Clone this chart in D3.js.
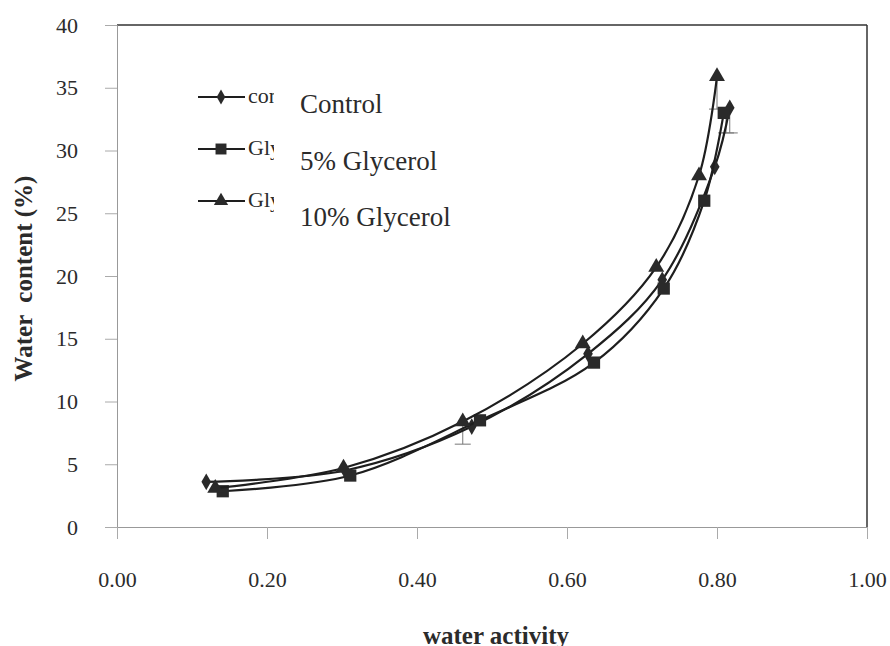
<!DOCTYPE html>
<html>
<head>
<meta charset="utf-8">
<script src="https://cdn.jsdelivr.net/npm/d3@7/dist/d3.min.js"></script>
<style>
  body { margin: 0; background: #fff; overflow: hidden; }
</style>
</head>
<body>
<div id="chart"></div>
<script>
/** Data */
const seriesNames = ["Control", "5% Glycerol", "10% Glycerol"];
const legendStubs = ["con", "Gly", "Gly"];
const controlAw = [0.119, 0.304, 0.473, 0.628, 0.727, 0.797, 0.817];
const controlWc = [3.6, 4.5, 8.0, 13.8, 19.7, 28.7, 33.4];
const gly5Aw = [0.141, 0.311, 0.484, 0.636, 0.729, 0.783, 0.809];
const gly5Wc = [2.85, 4.1, 8.5, 13.1, 19.0, 26.0, 33.0];
const gly10Aw = [0.131, 0.302, 0.461, 0.621, 0.719, 0.776, 0.800];
const gly10Wc = [3.1, 4.7, 8.4, 14.6, 20.7, 28.0, 35.9];
/** lower error bars (only some are visible) */
const errBars = [
  { x: 0.461, lo: 6.6, hi: 8.4 },
  { x: 0.800, lo: 33.3, hi: 35.9 },
  { x: 0.812, lo: 31.4, hi: 33.0 },
  { x: 0.817, lo: 31.4, hi: 33.4 },
];
const xTicks = [0, 0.2, 0.4, 0.6, 0.8, 1.0];
const yTicks = [0, 5, 10, 15, 20, 25, 30, 35, 40];

/** Graph configs */
const width = 890;
const height = 646;
const margin = { top: 25, right: 23, bottom: 119, left: 117 };
const innerWidth = width - margin.left - margin.right;
const innerHeight = height - margin.top - margin.bottom;
const serif = "'Liberation Serif', 'Times New Roman', Times, serif";

const series = [
  { name: seriesNames[0], stub: legendStubs[0], shape: d3.symbolDiamond, size: 80, xs: controlAw, ys: controlWc },
  { name: seriesNames[1], stub: legendStubs[1], shape: d3.symbolSquare, size: 150, xs: gly5Aw, ys: gly5Wc },
  { name: seriesNames[2], stub: legendStubs[2], shape: d3.symbolTriangle, size: 110, xs: gly10Aw, ys: gly10Wc },
];

const xScale = d3.scaleLinear().domain([0, 1]).range([0, innerWidth]);
const yScale = d3.scaleLinear().domain([0, 40]).range([innerHeight, 0]);

const svg = d3.select("#chart").append("svg")
  .attr("width", width)
  .attr("height", height)
  .style("display", "block");

/** clip for the truncated legend stubs (the original legend box cuts them) */
svg.append("defs").append("clipPath").attr("id", "stubClip")
  .append("rect").attr("x", 246).attr("y", 70).attr("width", 28).attr("height", 160);

const g = svg.append("g").attr("transform", `translate(${margin.left},${margin.top})`);

/** Frame: top and right dark, left and bottom grey axes */
g.append("line").attr("x1", 0).attr("x2", innerWidth).attr("y1", 0).attr("y2", 0)
  .attr("stroke", "#333").attr("stroke-width", 1.5);
g.append("line").attr("x1", innerWidth).attr("x2", innerWidth).attr("y1", 0).attr("y2", innerHeight)
  .attr("stroke", "#333").attr("stroke-width", 1.5);

/** Y axis */
const yAxis = g.append("g")
  .call(d3.axisLeft(yScale).tickValues(yTicks).tickSize(12).tickPadding(27).tickFormat(d3.format("d")));
yAxis.select(".domain").attr("stroke", "#999");
yAxis.selectAll(".tick line").attr("stroke", "#aaa");
yAxis.selectAll("text").style("font-size", "22px");

/** X axis */
const xAxis = g.append("g")
  .attr("transform", `translate(0,${innerHeight})`)
  .call(d3.axisBottom(xScale).tickValues(xTicks).tickSize(12).tickPadding(32).tickFormat(d3.format(".2f")));
xAxis.select(".domain").attr("stroke", "#999");
xAxis.selectAll(".tick line").attr("stroke", "#aaa");
xAxis.selectAll("text").style("font-size", "22px");

/** Axis titles */
svg.append("text")
  .attr("x", 496)
  .attr("y", 644)
  .attr("text-anchor", "middle")
  .style("font-size", "25px").style("font-weight", "bold")
  .text("water activity");

svg.append("text")
  .attr("transform", `translate(32,${margin.top + yScale(19.8)}) rotate(-90)`)
  .attr("text-anchor", "middle")
  .style("font-size", "25px").style("font-weight", "bold")
  .style("white-space", "pre")
  .text("Water  content (%)");

/** Error bars */
const capW = 8;
errBars.forEach((e) => {
  const x = xScale(e.x);
  g.append("line").attr("x1", x).attr("x2", x).attr("y1", yScale(e.hi)).attr("y2", yScale(e.lo))
    .attr("stroke", "#777").attr("stroke-width", 1);
  g.append("line").attr("x1", x - capW).attr("x2", x + capW).attr("y1", yScale(e.lo)).attr("y2", yScale(e.lo))
    .attr("stroke", "#777").attr("stroke-width", 1);
});

/** Smoothed lines and markers */
const line = d3.line()
  .x((d) => xScale(d[0]))
  .y((d) => yScale(d[1]))
  .curve(d3.curveCatmullRom.alpha(0.5));

series.forEach((s) => {
  const pts = s.xs.map((x, i) => [x, s.ys[i]]);
  g.append("path").datum(pts)
    .attr("d", line)
    .attr("fill", "none")
    .attr("stroke", "#1e1e1e")
    .attr("stroke-width", 2.2);
  g.selectAll(null).data(pts).enter().append("path")
    .attr("transform", (d) => `translate(${xScale(d[0])},${yScale(d[1])})`)
    .attr("d", d3.symbol().type(s.shape).size(s.size))
    .attr("fill", "#2a2a2a");
});

/** Legend */
const legend = svg.append("g");
series.forEach((s, i) => {
  const y = 97 + i * 52;
  legend.append("line").attr("x1", 198).attr("x2", 245).attr("y1", y).attr("y2", y)
    .attr("stroke", "#1e1e1e").attr("stroke-width", 2);
  legend.append("path")
    .attr("transform", `translate(221,${y})`)
    .attr("d", d3.symbol().type(s.shape).size(s.size * 0.8))
    .attr("fill", "#2a2a2a");
  legend.append("text").attr("x", 248).attr("y", y + 6)
    .attr("clip-path", "url(#stubClip)")
    .style("font-size", "22px").text(s.stub);
  legend.append("text").attr("x", 300).attr("y", 113 + i * 56.5)
    .style("font-size", "27px").text(s.name);
});

/** Serif font everywhere */
svg.selectAll("g").attr("font-family", null);
svg.selectAll("text").style("font-family", serif).attr("fill", "#2b2b2b");
</script>
</body>
</html>
